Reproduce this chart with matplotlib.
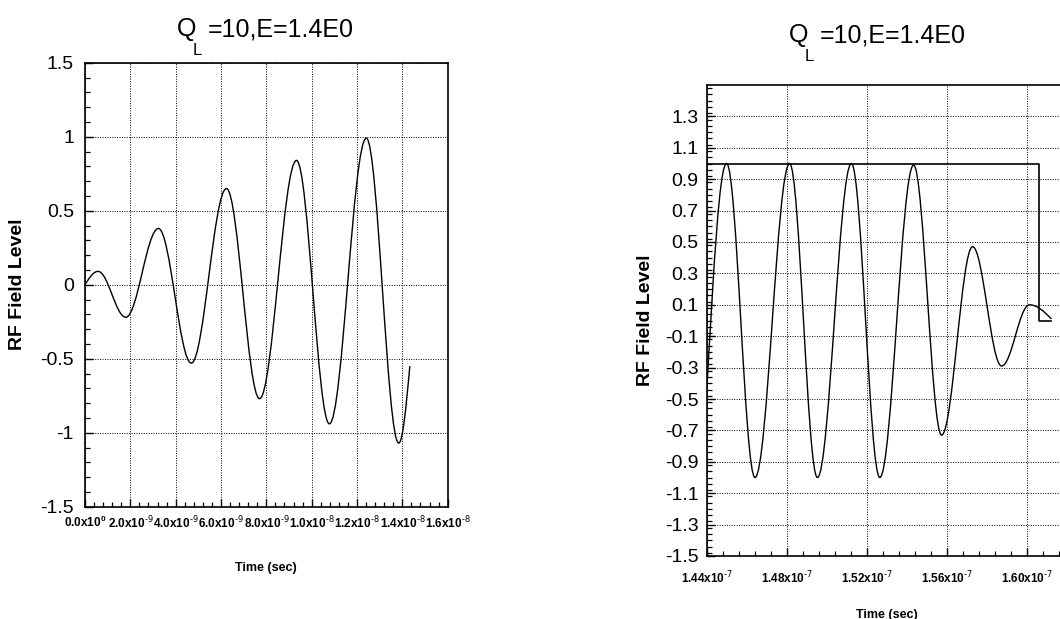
import matplotlib
matplotlib.use("Agg")
import matplotlib.pyplot as plt
from matplotlib.path import Path
from matplotlib.patches import PathPatch
from matplotlib.ticker import MultipleLocator, FixedLocator, FixedFormatter

plt.rcParams['font.family'] = ['Liberation Sans', 'DejaVu Sans']
plt.rcParams['mathtext.default'] = 'regular'

# left panel: turning points of the RF field (time in s)
left_t = [0.0, 0.577e-9, 1.80e-9, 3.24e-9, 4.69e-9, 6.24e-9, 7.70e-9,
          9.33e-9, 10.78e-9, 12.41e-9, 13.84e-9, 14.33e-9]
left_y = [0.0, 0.09, -0.22, 0.38, -0.53, 0.65, -0.77, 0.84, -0.94, 0.99, -1.07, -0.55]

left_xticks = [0, 2e-9, 4e-9, 6e-9, 8e-9, 1.0e-8, 1.2e-8, 1.4e-8, 1.6e-8]
left_xlabels = [r"0.0x10$^{0}$", r"2.0x10$^{\text{-9}}$", r"4.0x10$^{\text{-9}}$",
                r"6.0x10$^{\text{-9}}$", r"8.0x10$^{\text{-9}}$", r"1.0x10$^{\text{-8}}$",
                r"1.2x10$^{\text{-8}}$", r"1.4x10$^{\text{-8}}$", r"1.6x10$^{\text{-8}}$"]
left_yticks = [-1.5, -1, -0.5, 0, 0.5, 1, 1.5]
left_ylabels = ["-1.5", "-1", "-0.5", "0", "0.5", "1", "1.5"]

# right panel: turning points of the RF field during pulse end
right_t = [1.4400e-7, 1.4498e-7, 1.4640e-7, 1.4813e-7, 1.4952e-7, 1.5122e-7, 1.5264e-7,
           1.5433e-7, 1.5573e-7, 1.5728e-7, 1.5873e-7, 1.6012e-7, 1.6122e-7]
right_y = [-0.42, 1.0, -1.0, 1.0, -1.0, 1.0, -1.0, 0.99, -0.73, 0.47, -0.29, 0.10, 0.01]

# drive pulse envelope
pulse_t = [1.44e-7, 1.6059e-7, 1.6059e-7, 1.6122e-7]
pulse_y = [1.0, 1.0, 0.0, 0.0]

right_xticks = [1.44e-7, 1.48e-7, 1.52e-7, 1.56e-7, 1.60e-7]
right_xlabels = [r"1.44x10$^{\text{-7}}$", r"1.48x10$^{\text{-7}}$", r"1.52x10$^{\text{-7}}$",
                 r"1.56x10$^{\text{-7}}$", r"1.60x10$^{\text{-7}}$"]
right_yticks = [-1.5, -1.3, -1.1, -0.9, -0.7, -0.5, -0.3, -0.1,
                0.1, 0.3, 0.5, 0.7, 0.9, 1.1, 1.3]
right_ylabels = ["-1.5", "-1.3", "-1.1", "-0.9", "-0.7", "-0.5", "-0.3", "-0.1",
                 "0.1", "0.3", "0.5", "0.7", "0.9", "1.1", "1.3"]

title_rest = "=10,E=1.4E0"


def wave(ax, t, y):
    # smooth curve through turning points (cubic beziers, flat at extrema)
    verts = [(t[0], y[0])]
    codes = [Path.MOVETO]
    n = len(t)
    for i in range(n - 1):
        x0, y0, x1, y1 = t[i], y[i], t[i + 1], y[i + 1]
        dx, dy = x1 - x0, y1 - y0
        if i == 0:
            c1 = (x0 + 0.334 * dx, y0 + 0.525 * dy)
        else:
            c1 = (x0 + 0.363 * dx, y0)
        if i == n - 2:
            c2 = (x1 - 0.334 * dx, y1 - 0.525 * dy)
        else:
            c2 = (x1 - 0.363 * dx, y1)
        verts += [c1, c2, (x1, y1)]
        codes += [Path.CURVE4] * 3
    ax.add_patch(PathPatch(Path(verts, codes), fill=False, lw=1.0, color='black'))


def style(ax):
    for s in ax.spines.values():
        s.set_linewidth(1.2)
    ax.tick_params(which='both', direction='in', top=False, right=False, colors='black')
    ax.tick_params(which='major', length=6, width=1.0)
    ax.tick_params(which='minor', length=3.5, width=0.9)
    ax.grid(True, which='major', linestyle=(0, (1, 1.5)), color='black', linewidth=0.7)


W, H = 1060, 619
fig = plt.figure(figsize=(10.6, 6.19), dpi=100)

# ---- left panel
axL = fig.add_axes([85 / W, 1 - 506.7 / H, 362.7 / W, 444 / H])
wave(axL, left_t, left_y)
axL.set_xlim(0, 1.6e-8)
axL.set_ylim(-1.5, 1.5)
axL.xaxis.set_major_locator(FixedLocator(left_xticks))
axL.xaxis.set_major_formatter(FixedFormatter(left_xlabels))
axL.xaxis.set_minor_locator(MultipleLocator(4e-10))
axL.yaxis.set_major_locator(FixedLocator(left_yticks))
axL.yaxis.set_major_formatter(FixedFormatter(left_ylabels))
axL.yaxis.set_minor_locator(MultipleLocator(0.1))
style(axL)
axL.tick_params(axis='x', labelsize=8.5, pad=6)
axL.tick_params(axis='y', labelsize=14, pad=8)
for lab in axL.get_xticklabels():
    lab.set_fontweight('bold')
axL.set_xlabel("Time (sec)", fontsize=9, fontweight='bold', labelpad=22)
axL.set_ylabel("RF Field Level", fontsize=14, fontweight='bold', labelpad=10)

# ---- right panel (runs past the right edge of the figure)
axR = fig.add_axes([707 / W, 1 - 556 / H, 360 / W, 471 / H])
wave(axR, right_t, right_y)
axR.plot(pulse_t, pulse_y, color='black', lw=1.2)
axR.set_xlim(1.44e-7, 1.62e-7)
axR.set_ylim(-1.5, 1.5)
axR.xaxis.set_major_locator(FixedLocator(right_xticks))
axR.xaxis.set_major_formatter(FixedFormatter(right_xlabels))
axR.xaxis.set_minor_locator(MultipleLocator(8e-10))
axR.yaxis.set_major_locator(FixedLocator(right_yticks))
axR.yaxis.set_major_formatter(FixedFormatter(right_ylabels))
axR.yaxis.set_minor_locator(MultipleLocator(0.04))
style(axR)
axR.tick_params(axis='x', labelsize=8.5, pad=10)
axR.tick_params(axis='y', labelsize=14, pad=6)
for lab in axR.get_xticklabels():
    lab.set_fontweight('bold')
axR.set_xlabel("Time (sec)", fontsize=9, fontweight='bold', labelpad=16)
axR.set_ylabel("RF Field Level", fontsize=14, fontweight='bold', labelpad=8)

# ---- titles: Q with a low subscript L
for qx, qy in [(177, 36), (789, 42)]:
    fig.text(qx / W, 1 - qy / H, "Q", fontsize=18, va='baseline', ha='left')
    fig.text((qx + 16) / W, 1 - (qy + 19) / H, "L", fontsize=12, va='baseline', ha='left')
    fig.text((qx + 31) / W, 1 - qy / H, title_rest, fontsize=18, va='baseline', ha='left')

fig.savefig("out.png", dpi=100)
